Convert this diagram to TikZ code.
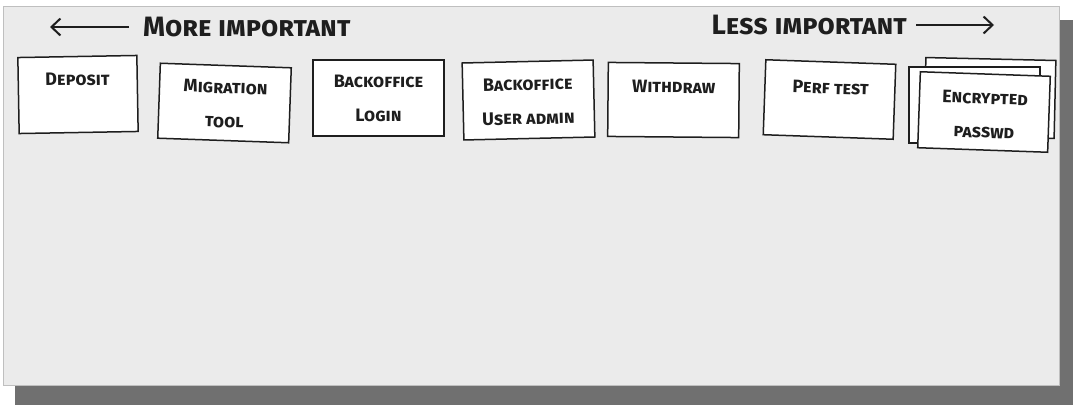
\documentclass[tikz,border=0pt]{standalone}
\usepackage{fontspec}
\setmainfont{Fira Sans}
\usetikzlibrary{positioning,arrows.meta}
\definecolor{panelgrey}{HTML}{EBEBEB}
\definecolor{shadowgrey}{HTML}{707070}
\definecolor{inkblack}{HTML}{1E1E1E}
\begin{document}
\begin{tikzpicture}[x=1pt, y=-1pt, >={Straight Barb[length=9pt,width=17pt]},
    card/.style={draw=inkblack, fill=white, line width=1.5pt, inner sep=0pt},
    cardtext/.style={inner sep=0pt, text=inkblack, align=center, font=\fontsize{18}{34}\selectfont\bfseries\scshape},
    headtext/.style={inner sep=0pt, text=inkblack, font=\fontsize{28}{28}\selectfont\bfseries\scshape},
    headarrow/.style={->, draw=inkblack, line width=2pt}]
  \useasboundingbox (0,0) rectangle (1080,407);
  \path[fill=white] (0,0) rectangle (1080,407);
  \path[fill=shadowgrey] (15,20) rectangle (1073,405);
  \path[fill=panelgrey, draw=black!25, line width=0.8pt] (3,6) rectangle (1059,385);

  \node[headtext, anchor=west] (more) at (143,27) {More important};
  \node[headtext, anchor=east] (less) at (907,25) {Less important};
  \coordinate (moreEnd) at (50,0);
  \coordinate (lessEnd) at (994,0);
  \draw[headarrow, shorten <=14pt] (more.west) -- (more.west -| moreEnd);
  \draw[headarrow, shorten <=9pt] (less.east) -- (less.east -| lessEnd);

  \node[card, minimum width=119pt, minimum height=76pt, rotate=1] (deposit) at (78,94.5) {};
  \node[card, minimum width=131pt, minimum height=75pt, rotate=-2] (migration) at (224.5,103) {};
  \node[card, minimum width=131pt, minimum height=76pt] (login) at (378.5,98) {};
  \node[card, minimum width=131pt, minimum height=77pt, rotate=1.3] (useradmin) at (528.5,100) {};
  \node[card, minimum width=131pt, minimum height=74pt, rotate=-0.5] (withdraw) at (673.5,100) {};
  \node[card, minimum width=130pt, minimum height=75pt, rotate=-2] (perftest) at (829.5,99.5) {};
  \node[card, minimum width=130pt, minimum height=78pt, rotate=-1.3] (passwdB) at (990,98) {};
  \node[card, minimum width=131pt, minimum height=76pt] (passwdM) at (974.5,105) {};
  \node[card, minimum width=130pt, minimum height=76pt, rotate=-2] (passwdF) at (984,112) {};

  \node[cardtext, below=17pt of deposit.north, rotate=1] (depositT) {Deposit};
  \node[cardtext, below=16pt of migration.north, rotate=-2] (migrationT) {Migration\\tool};
  \node[cardtext, below=16pt of login.north] (loginT) {Backoffice\\Login};
  \node[cardtext, below=17pt of useradmin.north, rotate=1.3] (useradminT) {Backoffice\\User admin};
  \node[cardtext, below=18pt of withdraw.north, rotate=-0.5] (withdrawT) {Withdraw};
  \node[cardtext, below=20pt of perftest.north, rotate=-2] (perftestT) {Perf test};
  \node[cardtext, below=18pt of passwdF.north, rotate=-2] (passwdT) {Encrypted\\passwd};
\end{tikzpicture}
\end{document}
